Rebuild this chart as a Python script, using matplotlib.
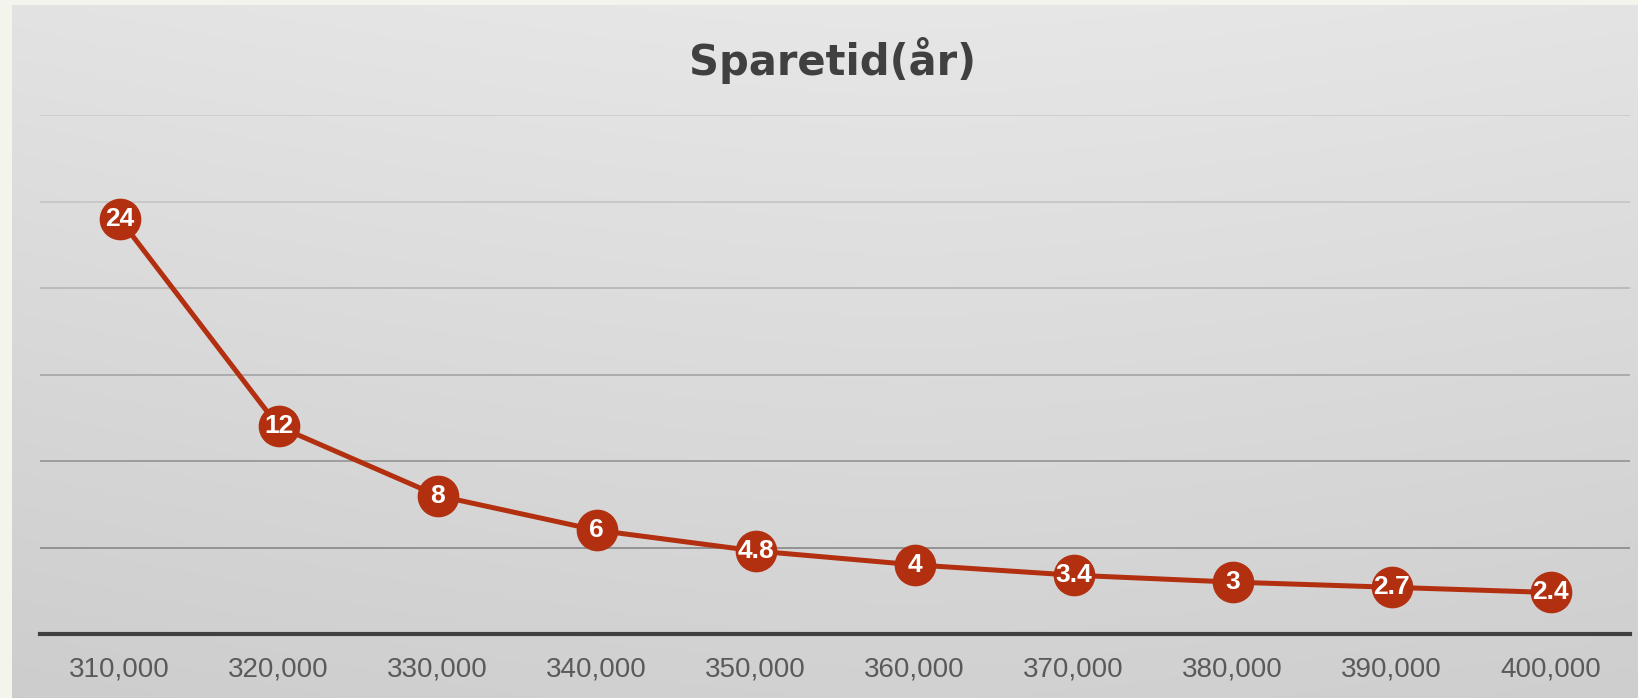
import numpy as np
import matplotlib
matplotlib.use("Agg")
from matplotlib import pyplot as plt

# savings amount per year and resulting saving time
categories = ["310,000", "320,000", "330,000", "340,000", "350,000",
              "360,000", "370,000", "380,000", "390,000", "400,000"]
years = [24, 12, 8, 6, 4.8, 4, 3.4, 3, 2.7, 2.4]
y_ticks = [0, 5, 10, 15, 20, 25, 30]
title = "Sparetid(år)"

W, H = 1638, 698
fig = plt.figure(figsize=(W / 100, H / 100), dpi=100)
fig.patch.set_facecolor("#f3f5ec")

# gray gradient panel behind the chart
bg = fig.add_axes([12 / W, 0, 1 - 12 / W, 1 - 5 / H], zorder=-1)
yy, xx = np.mgrid[0:1:200j, 0:1:400j]
shade = 0.905 - 0.085 * yy - 0.04 * np.abs(xx - 0.55) ** 1.5
bg.imshow(np.dstack([shade] * 3), aspect="auto", extent=[0, 1, 1, 0])
bg.axis("off")

ax = fig.add_axes([40 / W, 1 - 634 / H, 1590 / W, (634 - 115) / H])
ax.set_facecolor("none")
x = np.arange(len(categories))

ax.set_xlim(-0.5, len(categories) - 0.5)
ax.set_ylim(y_ticks[0], y_ticks[-1])
ax.set_yticks(y_ticks)
ax.set_xticks(x)
ax.set_xticklabels(categories, family="Liberation Sans", fontsize=20, color="#5a5a5a")
ax.tick_params(axis="x", length=0, pad=16)
ax.tick_params(axis="y", length=0, labelleft=False)
for s in ["top", "left", "right"]:
    ax.spines[s].set_visible(False)
ax.spines["bottom"].set_color("#404040")
ax.spines["bottom"].set_linewidth(3)
ax.spines["bottom"].set_zorder(4)

# gridlines get fainter towards the top
grid_cols = ["#8e8e8e", "#999999", "#a8a8a8", "#b8b8b8", "#c6c6c6", "#cdcdcd"]
for yv, c in zip(y_ticks[1:], grid_cols):
    ax.axhline(yv, color=c, lw=1.3, zorder=1)

ax.plot(x, years, color="#b2300f", lw=3.6, marker="o", markersize=29,
        markerfacecolor="#b2300f", markeredgecolor="#b2300f", zorder=3)
for xi, v in zip(x, years):
    ax.text(xi, v, f"{v:g}", ha="center", va="center", color="white",
            family="Liberation Sans", fontweight="bold", fontsize=19, zorder=5)

fig.text(833 / W, 1 - 60 / H, title, ha="center", va="center",
         fontsize=30, fontweight="bold", color="#404040", family="DejaVu Sans")

fig.savefig("out.png", dpi=100)
